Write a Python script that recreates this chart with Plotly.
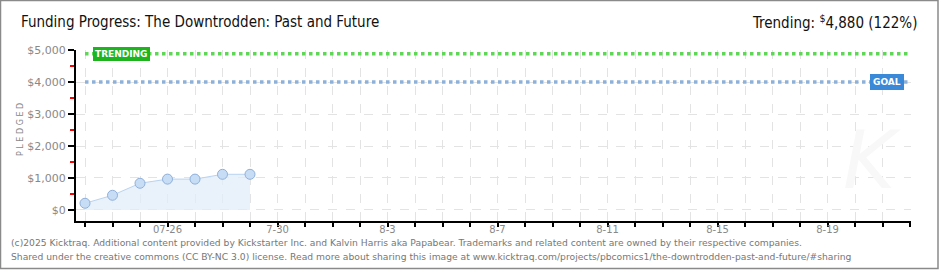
import plotly.graph_objects as go
import pandas as pd

# ---- data ----
dates = ["2025-07-23", "2025-07-24", "2025-07-25", "2025-07-26", "2025-07-27", "2025-07-28", "2025-07-29"]
pledged = [210, 460, 835, 965, 965, 1115, 1115]
goal = 4000
trending = 4880
campaign_start = "2025-07-23"
campaign_end = "2025-08-22"
tick_label_map = {"2025-07-26": "07-26", "2025-07-30": "7-30", "2025-08-03": "8-3",
                  "2025-08-07": "8-7", "2025-08-11": "8-11", "2025-08-15": "8-15",
                  "2025-08-19": "8-19"}
y_tickvals = [0, 1000, 2000, 3000, 4000, 5000]
y_ticktext = ["$0", "$1,000", "$2,000", "$3,000", "$4,000", "$5,000"]

title_text = "Funding Progress: The Downtrodden: Past and Future"
trend_text = "Trending: <sup>$</sup>4,880 (122%)"
footer1 = ("(c)2025 Kicktraq. Additional content provided by Kickstarter Inc. and Kalvin Harris aka "
           "Papabear. Trademarks and related content are owned by their respective companies.")
footer2 = ("Shared under the creative commons (CC BY-NC 3.0) license. Read more about sharing this image "
           "at www.kicktraq.com/projects/pbcomics1/the-downtrodden-past-and-future/#sharing")

# ---- layout geometry ----
W, H = 940, 270
L, R, T, B = 76, 29, 50, 49
PW, PH = W - L - R, H - T - B

all_days = [d.strftime("%Y-%m-%d") for d in pd.date_range(campaign_start, campaign_end, freq="D")]
tick_text = [tick_label_map.get(d, "") for d in all_days]

start = pd.Timestamp(campaign_start)
end = pd.Timestamp(campaign_end)
px_per_day = 27.5
x_range = [start - pd.Timedelta(days=9 / px_per_day), end + pd.Timedelta(days=1 / px_per_day)]

fig = go.Figure()

# trending & goal lines
fig.add_trace(go.Scatter(x=[campaign_start, campaign_end], y=[trending, trending], mode="lines",
                         line=dict(color="#5fd655", width=3.5, dash="dot"), hoverinfo="skip"))
fig.add_trace(go.Scatter(x=[campaign_start, campaign_end], y=[goal, goal], mode="lines",
                         line=dict(color="#8eb1dc", width=3.5, dash="dot"), hoverinfo="skip"))

# pledged area
fig.add_trace(go.Scatter(x=dates, y=pledged, mode="lines+markers", fill="tozeroy",
                         fillcolor="rgba(225,236,250,0.75)",
                         line=dict(color="#b9d3f1", width=1),
                         marker=dict(size=10, color="#c7ddf6", line=dict(color="#8fb0da", width=1))))

fig.update_layout(
    width=W, height=H,
    margin=dict(l=L, r=R, t=T, b=B),
    paper_bgcolor="white", plot_bgcolor="white",
    showlegend=False,
    font=dict(family="DejaVu Sans", color="#888"),
)

fig.update_xaxes(
    type="date", range=x_range,
    tickmode="array", tickvals=all_days, ticktext=tick_text,
    showgrid=True, gridcolor="#e3e3e3", griddash="dash", gridwidth=1,
    showline=True, linecolor="black", linewidth=2,
    ticks="outside", ticklen=4, tickcolor="black", tickwidth=1.5,
    ticklabelstandoff=-6,
    tickfont=dict(size=10, color="#888", family="DejaVu Sans"),
    zeroline=False, fixedrange=True,
)
fig.update_yaxes(
    range=[-344, 5000],
    tickmode="array", tickvals=y_tickvals, ticktext=y_ticktext,
    showgrid=True, gridcolor="#e3e3e3", griddash="dash", gridwidth=1,
    showline=True, linecolor="black", linewidth=2,
    ticks="outside", ticklen=6, tickcolor="black", tickwidth=1.5,
    minor=dict(tickvals=[500, 1500, 2500, 3500, 4500], ticks="outside", ticklen=4,
               tickcolor="red", tickwidth=1.5, showgrid=False),
    tickfont=dict(size=11, color="#888", family="DejaVu Sans"),
    zeroline=False, fixedrange=True,
)

def px_x(p):
    return (p - L) / PW

def px_y(p):
    return 1 - (p - T) / PH

# title & trending text
fig.add_annotation(text=title_text, xref="paper", yref="paper", x=px_x(19), y=px_y(22),
                   xanchor="left", yanchor="middle", showarrow=False,
                   font=dict(size=15, color="#111", family="DejaVu Sans Condensed"))
fig.add_annotation(text=trend_text, xref="paper", yref="paper", x=px_x(919), y=px_y(22),
                   xanchor="right", yanchor="middle", showarrow=False,
                   font=dict(size=15, color="#111", family="DejaVu Sans Condensed"))

# labels for lines
fig.add_annotation(text="<b>TRENDING</b>", xref="x", yref="y",
                   x=start + pd.Timedelta(days=8 / px_per_day), y=trending,
                   xanchor="left", yanchor="middle", showarrow=False,
                   bgcolor="#1eb41e", bordercolor="#1eb41e", borderpad=1,
                   font=dict(size=9, color="white", family="DejaVu Sans"))
fig.add_annotation(text="<b>GOAL</b>", xref="x", yref="y",
                   x=end - pd.Timedelta(days=6 / px_per_day), y=goal,
                   xanchor="right", yanchor="middle", showarrow=False,
                   bgcolor="#3a89d8", bordercolor="#3a89d8", borderpad=2,
                   font=dict(size=9, color="white", family="DejaVu Sans"))

# y axis title
fig.add_annotation(text="P L E D G E D", xref="paper", yref="paper", x=px_x(20), y=px_y(130),
                   xanchor="center", yanchor="middle", showarrow=False, textangle=-90,
                   font=dict(size=8, color="#888", family="DejaVu Sans"))

# watermark
fig.add_annotation(text="<i>K</i>", xref="paper", yref="paper", x=px_x(872), y=px_y(160),
                   xanchor="center", yanchor="middle", showarrow=False,
                   font=dict(size=80, color="#f8f8f8", family="DejaVu Sans"))

# footer
fig.add_annotation(text=footer1, xref="paper", yref="paper", x=px_x(9), y=px_y(242),
                   xanchor="left", yanchor="middle", showarrow=False,
                   font=dict(size=9.2, color="#777", family="DejaVu Sans"))
fig.add_annotation(text=footer2, xref="paper", yref="paper", x=px_x(9), y=px_y(256),
                   xanchor="left", yanchor="middle", showarrow=False,
                   font=dict(size=9.2, color="#777", family="DejaVu Sans"))

# border
fig.add_shape(type="rect", xref="paper", yref="paper",
              x0=px_x(0.5), x1=px_x(938), y0=px_y(268.5), y1=px_y(0.5),
              line=dict(color="#8a8a8a", width=1.5), layer="above")

fig.write_html("out.html")
